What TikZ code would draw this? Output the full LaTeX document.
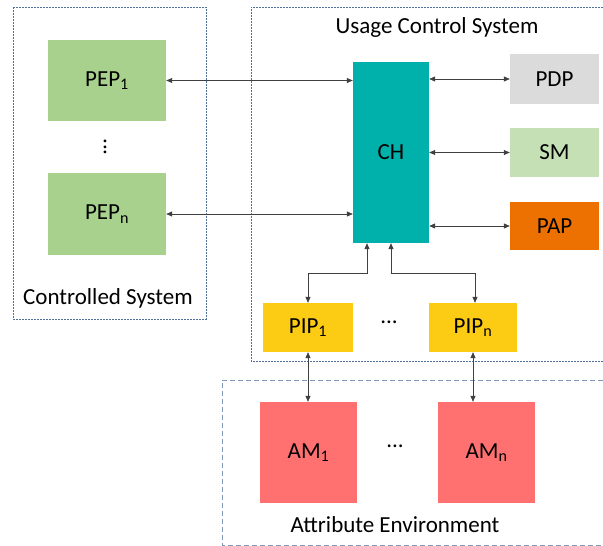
\documentclass[tikz,border=0pt]{standalone}
\usepackage{fontspec}
\setmainfont{Carlito}
\usepackage{graphicx}
\usetikzlibrary{arrows.meta}
\definecolor{pepgreen}{HTML}{A9D18E}
\definecolor{chteal}{HTML}{00B0AA}
\definecolor{pdpgray}{HTML}{DBDBDB}
\definecolor{smgreen}{HTML}{C5E0B4}
\definecolor{paporange}{HTML}{ED7100}
\definecolor{pipyellow}{HTML}{FCCC14}
\definecolor{amred}{HTML}{FF7070}
\definecolor{boxblue}{HTML}{50709A}
\definecolor{boxlight}{HTML}{8199B5}
\begin{document}
\begin{tikzpicture}[x=1pt,y=-1pt,
  font=\fontsize{23}{27}\selectfont,
  block/.style={rectangle, inner sep=0pt, draw=none, text=black},
  region/.style={draw=boxblue, line width=0.9pt, dash pattern=on 2pt off 1pt},
  regionb/.style={draw=boxlight, line width=0.9pt, dash pattern=on 5pt off 3pt},
  conn/.style={draw=black!75, line width=0.7pt, {Triangle[length=6pt,width=5pt]}-{Triangle[length=6pt,width=5pt]}}]
\useasboundingbox (0,0) rectangle (603,546);
% regions
\draw[region] (13,7) rectangle (206,319);
\draw[region] (603,7) -- (251,7) -- (251,361) -- (603,361);
\draw[regionb] (603,380) -- (222,380) -- (222,545) -- (603,545);
\node[block] (lcs) at (108,298) {Controlled System};
\node[block] (lucs) at (437,27) {Usage Control System};
\node[block] (lae) at (395,525) {Attribute Environment};
% blocks
\node[block, fill=pepgreen, minimum width=118pt, minimum height=81pt] (pep1) at (107,80.5) {PEP\textsubscript{1}};
\node[block, fill=pepgreen, minimum width=118pt, minimum height=82pt] (pepn) at (107,214) {PEP\textsubscript{n}};
\node[block] (vdots) at (105,147) {\rotatebox{-90}{...}};
\node[block, fill=chteal, minimum width=76pt, minimum height=181pt] (ch) at (391,152.5) {CH};
\node[block, fill=pdpgray, minimum width=89pt, minimum height=50pt] (pdp) at (554.5,79) {PDP};
\node[block, fill=smgreen, minimum width=89pt, minimum height=49pt] (sm) at (554.5,152.5) {SM};
\node[block, fill=paporange, minimum width=89pt, minimum height=48pt] (pap) at (554.5,226) {PAP};
\node[block, fill=pipyellow, minimum width=90pt, minimum height=49pt] (pip1) at (308,327.5) {PIP\textsubscript{1}};
\node[block, fill=pipyellow, minimum width=88pt, minimum height=49pt] (pipn) at (473,327.5) {PIP\textsubscript{n}};
\node[block] (hdots1) at (389,322) {...};
\node[block, fill=amred, minimum width=97pt, minimum height=101pt] (am1) at (308.5,452.5) {AM\textsubscript{1}};
\node[block, fill=amred, minimum width=97pt, minimum height=101pt] (amn) at (486.5,452.5) {AM\textsubscript{n}};
\node[block] (hdots2) at (395,446) {...};
% connectors
\draw[conn] (pep1.east) -- (pep1.east -| ch.west);
\draw[conn] (pepn.east) -- (pepn.east -| ch.west);
\draw[conn] (pdp.west -| ch.east) -- (pdp.west);
\draw[conn] (sm.west -| ch.east) -- (sm.west);
\draw[conn] (pap.west -| ch.east) -- (pap.west);
\draw[conn] ([xshift=-24pt]ch.south) -- ++(0,30) -| (pip1.north);
\draw[conn] (ch.south) -- ++(0,30) -| ([xshift=2pt]pipn.north);
\draw[conn] (pip1.south) -- (pip1.south |- am1.north);
\draw[conn] (pipn.south) -- (pipn.south |- amn.north);
\end{tikzpicture}
\end{document}
